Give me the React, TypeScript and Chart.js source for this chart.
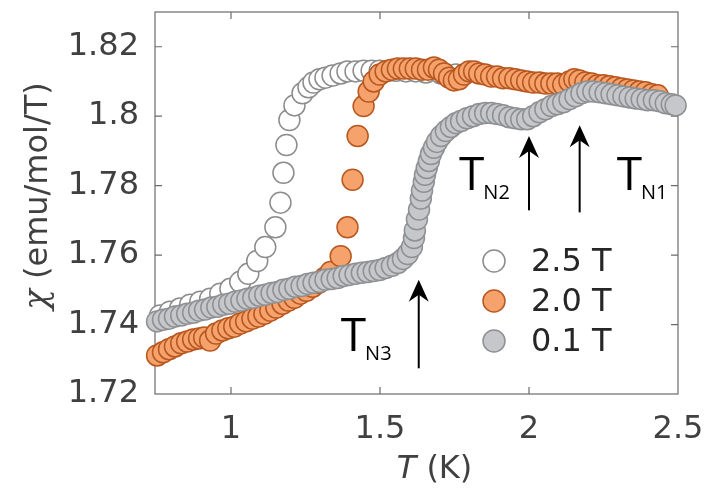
import React, { useEffect, useRef } from "react";
import { Chart, registerables } from "chart.js";

Chart.register(...registerables);

// ---- data (T in K, chi in emu/mol/T) ----
const field25: [number, number][] = [
  [0.762, 1.7426], [0.795, 1.7437], [0.829, 1.7446], [0.863, 1.7457], [0.897, 1.7466],
  [0.930, 1.7474], [0.964, 1.7489], [0.998, 1.7503], [1.031, 1.7523], [1.058, 1.7546],
  [1.088, 1.7583], [1.115, 1.7623], [1.149, 1.7680], [1.166, 1.7751], [1.176, 1.7837],
  [1.186, 1.7917], [1.196, 1.7989], [1.213, 1.8031], [1.240, 1.8066], [1.260, 1.8083],
  [1.277, 1.8097], [1.297, 1.8106], [1.317, 1.8111], [1.341, 1.8117], [1.368, 1.8123],
  [1.391, 1.8129], [1.418, 1.8129], [1.445, 1.8131], [1.472, 1.8131], [1.499, 1.8131],
  [1.526, 1.8131], [1.553, 1.8131], [1.587, 1.8129], [1.620, 1.8129], [1.654, 1.8126],
  [1.705, 1.8123], [1.755, 1.8120],
];

const field20: [number, number][] = [
  [0.752, 1.7311], [0.772, 1.7320], [0.792, 1.7329], [0.812, 1.7337], [0.833, 1.7346],
  [0.853, 1.7351], [0.873, 1.7357], [0.893, 1.7360], [0.910, 1.7363], [0.930, 1.7354],
  [0.950, 1.7374], [0.971, 1.7383], [0.991, 1.7389], [1.011, 1.7394], [1.031, 1.7403],
  [1.051, 1.7409], [1.072, 1.7417], [1.092, 1.7423], [1.112, 1.7431], [1.132, 1.7440],
  [1.152, 1.7449], [1.173, 1.7460], [1.193, 1.7469], [1.213, 1.7477], [1.233, 1.7489],
  [1.253, 1.7497], [1.274, 1.7509], [1.294, 1.7520], [1.314, 1.7534], [1.334, 1.7551],
  [1.368, 1.7597], [1.391, 1.7680], [1.408, 1.7817], [1.425, 1.7943], [1.445, 1.8029],
  [1.462, 1.8071], [1.479, 1.8100], [1.499, 1.8120], [1.519, 1.8129], [1.540, 1.8134],
  [1.560, 1.8137], [1.580, 1.8137], [1.600, 1.8137], [1.620, 1.8137], [1.641, 1.8134],
  [1.661, 1.8134], [1.681, 1.8140], [1.698, 1.8134], [1.715, 1.8123], [1.732, 1.8111],
  [1.748, 1.8103], [1.765, 1.8106], [1.782, 1.8120], [1.799, 1.8129], [1.816, 1.8129],
  [1.833, 1.8123], [1.853, 1.8120], [1.873, 1.8114], [1.893, 1.8114], [1.913, 1.8109],
  [1.934, 1.8109], [1.954, 1.8106], [1.974, 1.8103], [1.994, 1.8100], [2.014, 1.8097],
  [2.035, 1.8097], [2.055, 1.8094], [2.075, 1.8094], [2.095, 1.8094], [2.115, 1.8091],
  [2.136, 1.8100], [2.152, 1.8106], [2.169, 1.8103], [2.189, 1.8097], [2.210, 1.8094],
  [2.230, 1.8089], [2.250, 1.8089], [2.270, 1.8086], [2.290, 1.8083], [2.311, 1.8080],
  [2.331, 1.8077], [2.351, 1.8074], [2.371, 1.8071], [2.391, 1.8069], [2.412, 1.8063],
  [2.432, 1.8060],
];

const field01: [number, number][] = [
  [0.752, 1.7409], [0.772, 1.7414], [0.792, 1.7417], [0.812, 1.7423], [0.833, 1.7426],
  [0.853, 1.7431], [0.873, 1.7434], [0.893, 1.7440], [0.913, 1.7443], [0.934, 1.7449],
  [0.954, 1.7451], [0.974, 1.7457], [0.994, 1.7460], [1.014, 1.7466], [1.035, 1.7469],
  [1.055, 1.7474], [1.075, 1.7477], [1.095, 1.7483], [1.115, 1.7486], [1.136, 1.7491],
  [1.156, 1.7494], [1.176, 1.7500], [1.196, 1.7503], [1.216, 1.7509], [1.237, 1.7511],
  [1.257, 1.7517], [1.277, 1.7520], [1.297, 1.7523], [1.317, 1.7529], [1.338, 1.7531],
  [1.358, 1.7534], [1.378, 1.7540], [1.398, 1.7543], [1.418, 1.7546], [1.439, 1.7549],
  [1.459, 1.7551], [1.479, 1.7554], [1.499, 1.7557], [1.519, 1.7563], [1.540, 1.7569],
  [1.560, 1.7577], [1.577, 1.7589], [1.593, 1.7603], [1.607, 1.7623], [1.614, 1.7649],
  [1.617, 1.7671], [1.624, 1.7703], [1.631, 1.7731], [1.637, 1.7763], [1.641, 1.7786],
  [1.647, 1.7811], [1.651, 1.7831], [1.657, 1.7851], [1.664, 1.7871], [1.671, 1.7891],
  [1.681, 1.7909], [1.691, 1.7926], [1.705, 1.7943], [1.721, 1.7957], [1.738, 1.7969],
  [1.755, 1.7980], [1.772, 1.7986], [1.792, 1.7994], [1.812, 1.8000], [1.833, 1.8006],
  [1.853, 1.8009], [1.873, 1.8009], [1.893, 1.8006], [1.913, 1.8003], [1.934, 1.7997],
  [1.954, 1.7994], [1.974, 1.7991], [1.994, 1.7991], [2.014, 1.8000], [2.035, 1.8011],
  [2.055, 1.8020], [2.075, 1.8029], [2.095, 1.8034], [2.115, 1.8040], [2.136, 1.8049],
  [2.156, 1.8057], [2.176, 1.8066], [2.196, 1.8071], [2.216, 1.8071], [2.237, 1.8069],
  [2.257, 1.8066], [2.277, 1.8063], [2.297, 1.8060], [2.317, 1.8057], [2.338, 1.8054],
  [2.358, 1.8051], [2.378, 1.8049], [2.398, 1.8046], [2.419, 1.8046], [2.439, 1.8043],
  [2.459, 1.8037], [2.479, 1.8034], [2.492, 1.8031],
];

const seriesLabels = ["2.5 T", "2.0 T", "0.1 T"];
const xTicks = [1, 1.5, 2, 2.5];
const xTickLabels = ["1", "1.5", "2", "2.5"];
const yTicks = [1.72, 1.74, 1.76, 1.78, 1.8, 1.82];
const yTickLabels = ["1.72", "1.74", "1.76", "1.78", "1.8", "1.82"];

// transitions: name, temperature, arrow tail chi, arrow tip chi
const transitionNames = ["N1", "N2", "N3"];
const transitionT = [2.17, 2.0, 1.63];
const arrowTailChi = [1.7723, 1.7729, 1.7274];
const arrowTipChi = [1.7974, 1.7943, 1.7529];

const xLabelMain = "T";
const xLabelRest = " (K)";
const yLabelSymbol = "χ";
const yLabelRest = " (emu/mol/T)";

const FONT = "'DejaVu Sans', 'Liberation Sans', Arial, sans-serif";
const SERIF = "'DejaVu Serif', 'Liberation Serif', serif";
const ANNO_FONT = "'Open Sans', 'Noto Sans', sans-serif";
const TICK_SIZE = 32;

const styles = [
  { fill: "#ffffff", border: "#8c8c8c" },
  { fill: "#f5a26c", border: "#b8571f" },
  { fill: "#c5c7ca", border: "#8e9093" },
];

const framePlugin = {
  id: "frame",
  beforeDatasetsDraw(chart: any) {
    const { ctx, chartArea } = chart;
    const { left, right, top, bottom } = chartArea;
    const xs = chart.scales.x;
    const ys = chart.scales.y;
    ctx.save();
    ctx.strokeStyle = "#6b6b6b";
    ctx.lineWidth = 1.2;
    ctx.strokeRect(left, top, right - left, bottom - top);
    const tl = 7;
    ctx.beginPath();
    xTicks.forEach((v) => {
      const px = xs.getPixelForValue(v);
      if (px > left + 1 && px < right - 1) {
        ctx.moveTo(px, bottom);
        ctx.lineTo(px, bottom - tl);
        ctx.moveTo(px, top);
        ctx.lineTo(px, top + tl);
      }
    });
    yTicks.forEach((v) => {
      const py = ys.getPixelForValue(v);
      if (py > top + 1 && py < bottom - 1) {
        ctx.moveTo(left, py);
        ctx.lineTo(left + tl, py);
        ctx.moveTo(right, py);
        ctx.lineTo(right - tl, py);
      }
    });
    ctx.stroke();

    // x axis title
    ctx.fillStyle = "#404040";
    ctx.textBaseline = "alphabetic";
    ctx.font = `italic ${TICK_SIZE}px ${FONT}`;
    const w1 = ctx.measureText(xLabelMain).width;
    ctx.font = `${TICK_SIZE}px ${FONT}`;
    const w2 = ctx.measureText(xLabelRest).width;
    const cx = (left + right) / 2 + 18;
    const bx = cx - (w1 + w2) / 2;
    const by = 478;
    ctx.font = `italic ${TICK_SIZE}px ${FONT}`;
    ctx.textAlign = "left";
    ctx.fillText(xLabelMain, bx, by);
    ctx.font = `${TICK_SIZE}px ${FONT}`;
    ctx.fillText(xLabelRest, bx + w1, by);

    // y axis title (rotated)
    ctx.save();
    ctx.translate(47, 196);
    ctx.rotate(-Math.PI / 2);
    ctx.font = `italic ${TICK_SIZE + 2}px ${SERIF}`;
    const s1 = ctx.measureText(yLabelSymbol).width;
    ctx.font = `${TICK_SIZE}px ${FONT}`;
    const s2 = ctx.measureText(yLabelRest).width;
    const sx = -(s1 + s2) / 2;
    ctx.textAlign = "left";
    ctx.font = `italic ${TICK_SIZE + 2}px ${SERIF}`;
    ctx.fillText(yLabelSymbol, sx, 0);
    ctx.font = `${TICK_SIZE}px ${FONT}`;
    ctx.fillText(yLabelRest, sx + s1, 0);
    ctx.restore();
    ctx.restore();
  },
  afterDatasetsDraw(chart: any) {
    const { ctx, chartArea } = chart;
    const xs = chart.scales.x;
    const ys = chart.scales.y;
    ctx.save();
    // legend
    const lx = chartArea.right - 184;
    const ly0 = chartArea.top + 249;
    const gap = 40;
    seriesLabels.forEach((lab, i) => {
      const y = ly0 + i * gap;
      ctx.beginPath();
      ctx.arc(lx, y, 11, 0, Math.PI * 2);
      ctx.fillStyle = styles[i].fill;
      ctx.fill();
      ctx.lineWidth = 1.5;
      ctx.strokeStyle = styles[i].border;
      ctx.stroke();
      ctx.fillStyle = "#262626";
      ctx.font = `${TICK_SIZE}px ${FONT}`;
      ctx.textAlign = "left";
      ctx.textBaseline = "middle";
      ctx.fillText(lab, lx + 37, y + 2);
    });

    // arrows and labels
    const labelOffsets = [
      { dx: 37, by: 190 },
      { dx: -70, by: 190 },
      { dx: -78, by: 351 },
    ];
    transitionNames.forEach((nm, i) => {
      const x = xs.getPixelForValue(transitionT[i]);
      const y0 = ys.getPixelForValue(arrowTailChi[i]);
      const y1 = ys.getPixelForValue(arrowTipChi[i]);
      ctx.strokeStyle = "#000";
      ctx.fillStyle = "#000";
      ctx.lineWidth = 2;
      ctx.beginPath();
      ctx.moveTo(x, y0);
      ctx.lineTo(x, y1 + 12);
      ctx.stroke();
      ctx.beginPath();
      ctx.moveTo(x, y1);
      ctx.lineTo(x + 10, y1 + 22);
      ctx.lineTo(x, y1 + 15);
      ctx.lineTo(x - 10, y1 + 22);
      ctx.closePath();
      ctx.fill();

      const o = labelOffsets[i];
      ctx.textAlign = "left";
      ctx.textBaseline = "alphabetic";
      ctx.font = `46px ${ANNO_FONT}`;
      const tx = x + o.dx;
      ctx.fillText("T", tx, o.by);
      const tw = ctx.measureText("T").width;
      ctx.font = `20px ${ANNO_FONT}`;
      ctx.fillText(nm, tx + tw - 1, o.by + 9);
    });
    ctx.restore();
  },
};

export default function App() {
  const ref = useRef<HTMLCanvasElement | null>(null);
  useEffect(() => {
    document.body.style.margin = "0";
    const canvas = ref.current;
    if (!canvas) return;
    const toPts = (arr: [number, number][]) => arr.map(([x, y]) => ({ x, y }));
    const sets = [field25, field20, field01];
    const chart = new Chart(canvas, {
      type: "scatter",
      data: {
        datasets: sets.map((s, i) => ({
          label: seriesLabels[i],
          data: toPts(s),
          backgroundColor: styles[i].fill,
          borderColor: styles[i].border,
          borderWidth: 1.5,
          pointRadius: 10.5,
          pointHoverRadius: 10.5,
          showLine: false,
          clip: false as any,
          order: 3 - i,
        })),
      },
      options: {
        responsive: false,
        animation: false,
        events: [],
        layout: { padding: { left: 0, right: 35, top: 8, bottom: 0 } },
        plugins: { legend: { display: false }, tooltip: { enabled: false } },
        scales: {
          x: {
            type: "linear",
            min: 0.745,
            max: 2.5,
            grid: { display: false, drawTicks: false },
            border: { display: false },
            afterBuildTicks: (scale: any) => {
              scale.ticks = xTicks.map((v) => ({ value: v }));
            },
            afterFit: (scale: any) => {
              scale.height = 102;
              scale.paddingLeft = 0;
              scale.paddingRight = 0;
            },
            ticks: {
              padding: 16,
              color: "#404040",
              font: { family: FONT, size: TICK_SIZE },
              maxRotation: 0,
              autoSkip: false,
              callback: (v: any) => {
                const k = xTicks.findIndex((t) => Math.abs(t - v) < 1e-9);
                return k >= 0 ? xTickLabels[k] : "";
              },
            },
          },
          y: {
            type: "linear",
            min: 1.72,
            max: 1.83,
            grid: { display: false, drawTicks: false },
            border: { display: false },
            afterBuildTicks: (scale: any) => {
              scale.ticks = yTicks.map((v) => ({ value: v }));
            },
            afterFit: (scale: any) => {
              scale.width = 155;
              scale.paddingTop = 0;
              scale.paddingBottom = 0;
            },
            ticks: {
              padding: 16,
              color: "#404040",
              font: { family: FONT, size: TICK_SIZE },
              autoSkip: false,
              callback: (v: any) => {
                const k = yTicks.findIndex((t) => Math.abs(t - v) < 1e-9);
                return k >= 0 ? yTickLabels[k] : "";
              },
            },
          },
        },
      },
      plugins: [framePlugin],
    });
    return () => chart.destroy();
  }, []);
  return (
    <div style={{ width: 713, height: 496, background: "#fff" }}>
      <canvas ref={ref} width={713} height={496} />
    </div>
  );
}
